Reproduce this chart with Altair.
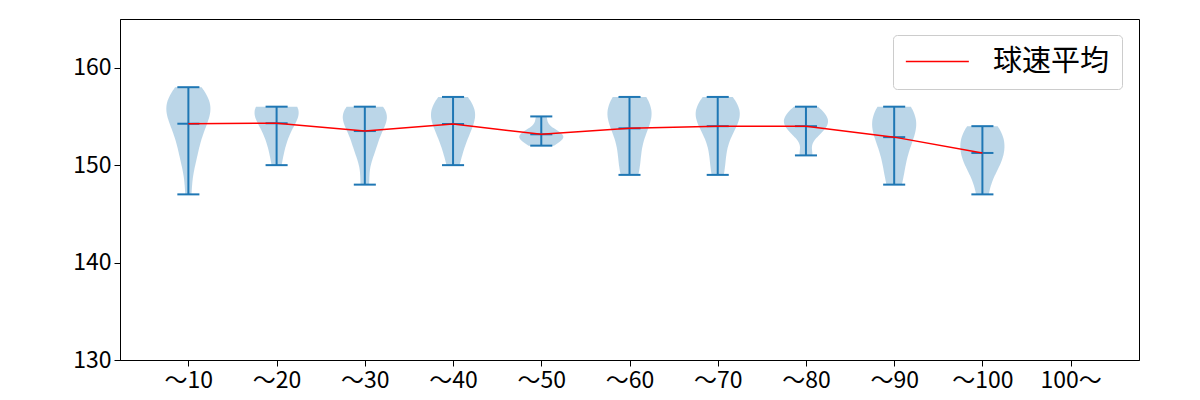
import altair as alt
import pandas as pd

# ---- data ----
categories = ["〜10", "〜20", "〜30", "〜40", "〜50", "〜60", "〜70", "〜80", "〜90", "〜100", "100〜"]

speeds_10 = [147, 150, 151, 152, 153, 154, 154, 155, 155, 156, 156, 156, 157, 157, 158, 157]
speeds_20 = [150, 152, 153, 154, 155, 155, 156, 156, 156, 156]
speeds_30 = [148, 151, 152, 153, 154, 155, 155, 155, 156, 156]
speeds_40 = [150, 152, 153, 154, 155, 155, 156, 156, 157]
speeds_50 = [152, 153, 153, 153, 153, 155]
speeds_60 = [149, 150, 152, 154, 155, 155, 156, 156, 157]
speeds_70 = [149, 151, 153, 154, 155, 155, 156, 156, 157]
speeds_80 = [151, 153, 154, 154, 155, 155, 156]
speeds_90 = [148, 150, 152, 153, 154, 155, 155, 156]
speeds_100 = [147, 150, 150, 151, 152, 153, 153, 154]
speeds_over100 = []

samples = [speeds_10, speeds_20, speeds_30, speeds_40, speeds_50, speeds_60,
           speeds_70, speeds_80, speeds_90, speeds_100, speeds_over100]

legend_label = "球速平均"
y_ticks = [130, 140, 150, 160]

rows = [{"pos": i + 1, "speed": v} for i, vals in enumerate(samples) for v in vals]
df = pd.DataFrame(rows)

FONT = "Noto Sans CJK JP"
BLUE = "#1f77b4"

label_expr = "[" + ",".join("'" + c + "'" for c in categories) + "][datum.value - 1]"

x_scale = alt.Scale(domain=[0.225, len(categories) + 0.775], nice=False, zero=False)
y_scale = alt.Scale(domain=[130, 165], nice=False, zero=False)

x_axis = alt.Axis(values=list(range(1, len(categories) + 1)), labelExpr=label_expr,
                  title=None, grid=False, labelPadding=3)
y_axis = alt.Axis(values=y_ticks, title=None, grid=False, labelPadding=3)


def X(field):
    return alt.X(field, type="quantitative", scale=x_scale, axis=x_axis)


def Y(field):
    return alt.Y(field, type="quantitative", scale=y_scale, axis=y_axis)


violin = alt.Chart(df).transform_joinaggregate(
    vmin="min(speed)", vmax="max(speed)", groupby=["pos"]
).transform_density(
    "speed", groupby=["pos", "vmin", "vmax"], extent=[140, 162], steps=440,
    as_=["value", "density"]
).transform_filter(
    "datum.value >= datum.vmin - 1e-6 && datum.value <= datum.vmax + 1e-6"
).transform_joinaggregate(
    dmax="max(density)", groupby=["pos"]
).transform_calculate(
    left="datum.pos - 0.25 * datum.density / datum.dmax",
    right="datum.pos + 0.25 * datum.density / datum.dmax"
).mark_area(orient="horizontal", color=BLUE, opacity=0.3).encode(
    y=Y("value"),
    x=X("left"),
    x2="right:Q",
    detail="pos:N",
)

stats = alt.Chart(df).transform_aggregate(
    vmin="min(speed)", vmax="max(speed)", vmean="mean(speed)", groupby=["pos"]
).transform_calculate(
    xl="datum.pos - 0.125", xr="datum.pos + 0.125", series="'" + legend_label + "'"
)

stem = stats.mark_rule(color=BLUE, strokeWidth=2).encode(x=X("pos"), y=Y("vmin"), y2="vmax:Q")
cap_min = stats.mark_rule(color=BLUE, strokeWidth=2).encode(x=X("xl"), x2="xr:Q", y=Y("vmin"))
cap_max = stats.mark_rule(color=BLUE, strokeWidth=2).encode(x=X("xl"), x2="xr:Q", y=Y("vmax"))
cap_mean = stats.mark_rule(color=BLUE, strokeWidth=2).encode(x=X("xl"), x2="xr:Q", y=Y("vmean"))

mean_line = stats.mark_line(strokeWidth=1.5).encode(
    x=X("pos"),
    y=Y("vmean"),
    color=alt.Color(
        "series:N",
        scale=alt.Scale(domain=[legend_label], range=["red"]),
        legend=alt.Legend(
            title=None, orient="none", legendX=773, legendY=16,
            symbolType="M-1.3,0H4.7", symbolSize=441, symbolStrokeWidth=1.5,
            labelFontSize=29, labelFont=FONT, labelColor="black",
            padding=12, strokeColor="#cccccc", cornerRadius=4, fillColor="white",
            labelOffset=59,
        ),
    ),
)

chart = alt.layer(violin, stem, cap_min, cap_max, cap_mean, mean_line).properties(
    width=1019, height=341,
    autosize=alt.AutoSizeParams(type="none"),
    padding={"left": 120, "top": 19, "right": 61, "bottom": 40},
    background="white",
).configure_view(
    stroke="black", strokeWidth=1
).configure_axis(
    labelFont=FONT, labelFontSize=23, labelColor="black",
    tickColor="black", tickSize=6, tickWidth=1,
    domainColor="black", domainWidth=1,
)

chart.save("out.html", embed_options={"renderer": "svg", "actions": False})
